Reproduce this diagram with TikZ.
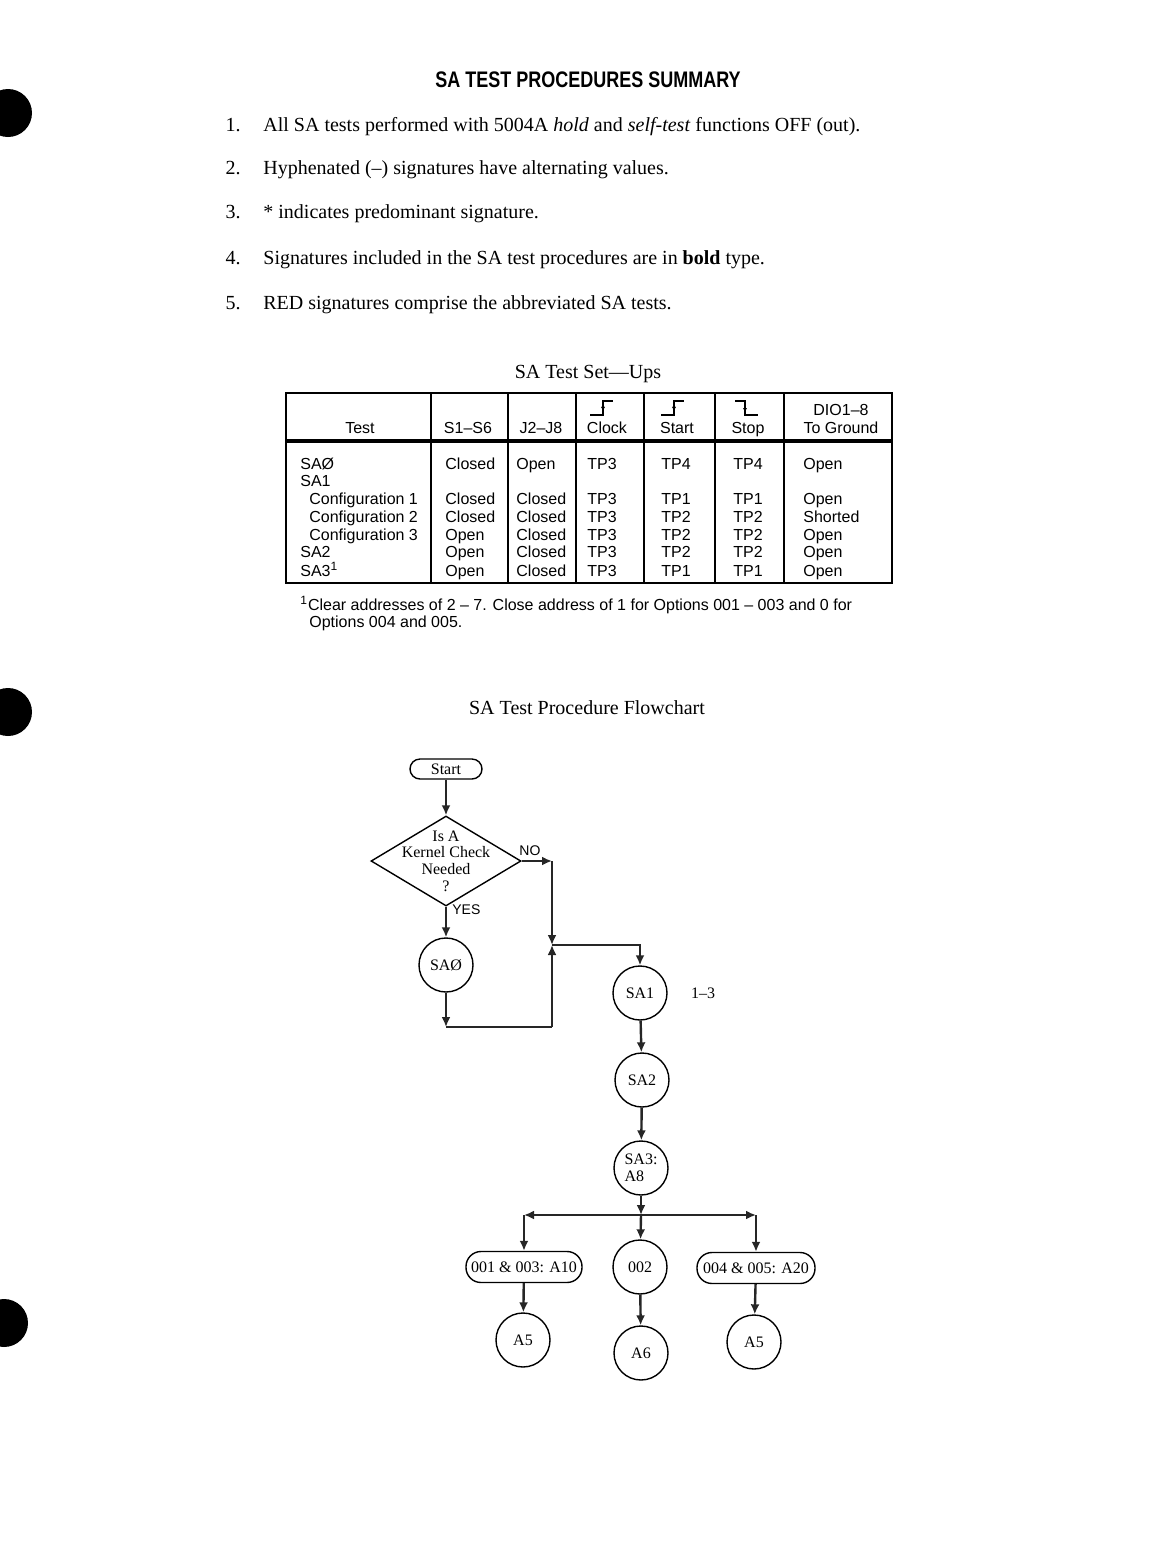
\documentclass[tikz,border=0pt]{standalone}
\usepackage{fontspec}
\setmainfont{Liberation Serif}
\newfontfamily\tabfont[Ligatures=TeX]{Liberation Sans}
\usepackage{tikz}
\usetikzlibrary{shapes.geometric, arrows.meta, positioning, calc}

\begin{document}
\begin{tikzpicture}[x=0.5pt, y=-0.5pt, every node/.style={inner sep=0pt},
    bodytext/.style={anchor=base west, font=\fontsize{10}{12}\selectfont},
    tabtext/.style={anchor=base west, font=\tabfont\fontsize{8}{9}\selectfont},
    tabhead/.style={anchor=base, font=\tabfont\fontsize{8}{9}\selectfont},
    flowtext/.style={font=\fontsize{8}{8.3}\selectfont},
    stepcircle/.style={circle, draw, line width=0.7pt, minimum size=27pt, flowtext},
    stadium/.style={rectangle, draw, line width=0.7pt, flowtext},
    flow/.style={-{Latex[length=5pt, width=4.5pt]}, line width=1.2pt, black!85},
    wave/.style={line width=0.6pt},
    rule/.style={line width=0.6pt}]
    \useasboundingbox (0,0) rectangle (1176,1544);
    % punch holes of the scan
    \fill (8,113) circle[radius=12pt];
    \fill (8,712) circle[radius=12pt];
    \fill (4,1323) circle[radius=12pt];

    \node[anchor=base, font=\tabfont\bfseries\fontsize{9}{11}\selectfont] (title) at (588,87) {\scalebox{1}[1.25]{SA TEST PROCEDURES SUMMARY}};
    \foreach \y/\n/\txt [count=\k] in {
        131/1./{All SA tests performed with 5004A \textit{hold} and \textit{self-test} functions OFF (out).},
        174/2./{Hyphenated (--) signatures have alternating values.},
        218/3./{* indicates predominant signature.},
        264/4./{Signatures included in the SA test procedures are in \textbf{bold} type.},
        309/5./{RED signatures comprise the abbreviated SA tests.}} {
        \node[bodytext, anchor=base east] (num\k) at (241,\y) {\n};
        \node[bodytext] (item\k) at (263,\y) {\txt};
    }

    \node[bodytext, anchor=base] (settitle) at (588,378) {SA Test Set---Ups};
    % table frame
    \draw[rule] (286,393) rectangle (892,583);
    \draw[line width=1.6pt] (286,441) -- (892,441);
    \foreach \x in {431,508,576,644,715,784}
        \draw[rule] (\x,393) -- (\x,583);
    % header
    \node[tabhead] (htest) at (360,433) {Test};
    \node[tabhead] (hsw) at (468,433) {S1--S6};
    \node[tabhead] (hjp) at (541,433) {J2--J8};
    \node[tabhead] (hclk) at (607,433) {Clock};
    \node[tabhead] (hsta) at (677,433) {Start};
    \node[tabhead] (hstp) at (748,433) {Stop};
    \node[tabhead] (hdio) at (841,415) {DIO1--8};
    \node[tabhead] (hgnd) at (841,433) {To Ground};
    % edge symbols
    \draw[wave] (590,415) -- (603,415) -- (603,401) -- (613,401);
    \draw[wave, -{Latex[length=2.5pt, width=2pt]}] (603,410) -- (603,403);
    \draw[wave] (661,415) -- (674,415) -- (674,401) -- (684,401);
    \draw[wave, -{Latex[length=2.5pt, width=2pt]}] (674,410) -- (674,403);
    \draw[wave] (735,401) -- (745,401) -- (745,415) -- (758,415);
    \draw[wave, -{Latex[length=2.5pt, width=2pt]}] (745,406) -- (745,413);
    % rows
    \node[tabtext] (sa1row) at (300,486) {SA1};
    \foreach \y/\tx/\tn/\s/\j/\c/\a/\b/\d [count=\k] in {
        469/300/SAØ/Closed/Open/TP3/TP4/TP4/Open,
        504/309/Configuration 1/Closed/Closed/TP3/TP1/TP1/Open,
        522/309/Configuration 2/Closed/Closed/TP3/TP2/TP2/Shorted,
        540/309/Configuration 3/Open/Closed/TP3/TP2/TP2/Open,
        557/300/SA2/Open/Closed/TP3/TP2/TP2/Open,
        576/300/{SA3\textsuperscript{1}}/Open/Closed/TP3/TP1/TP1/Open} {
        \node[tabtext] (test\k) at (\tx,\y) {\tn};
        \node[tabtext] (sw\k) at (445,\y) {\s};
        \node[tabtext] (jp\k) at (516,\y) {\j};
        \node[tabtext] (clk\k) at (587,\y) {\c};
        \node[tabtext] (sta\k) at (661,\y) {\a};
        \node[tabtext] (stp\k) at (733,\y) {\b};
        \node[tabtext] (dio\k) at (803,\y) {\d};
    }
    \node[tabtext] (note1) at (300,610) {\textsuperscript{1}Clear addresses of 2 -- 7. Close address of 1 for Options 001 -- 003 and 0 for};
    \node[tabtext] (note2) at (309,627) {Options 004 and 005.};

    \node[bodytext, anchor=base] (flowtitle) at (587,714) {SA Test Procedure Flowchart};
    % flowchart
    \node[stadium, rounded corners=5pt, minimum width=36pt, minimum height=10pt] (start) at (446,769) {Start};
    \node[diamond, draw, line width=0.7pt, minimum width=75pt, minimum height=45pt] (kernel) at (446,861) {};
    \node[flowtext, align=center] (kerneltxt) at (446,861) {Is A\\Kernel Check\\Needed\\?};
    \node[stepcircle] (sa0) at (446,965) {SAØ};
    \node[stepcircle] (sa1) at (640,993) {SA1};
    \node[flowtext] (sa1note) at (703,993) {1--3};
    \node[stepcircle] (sa2) at (642,1080) {SA2};
    \node[stepcircle, align=left] (sa3) at (641,1168) {SA3:\\A8};
    \node[stadium, rounded corners=7.5pt, minimum width=58pt, minimum height=15.5pt] (opt1) at (524,1267) {001 \& 003: A10};
    \node[stepcircle] (opt2) at (640,1267) {002};
    \node[stadium, rounded corners=7.5pt, minimum width=59pt, minimum height=15.5pt] (opt4) at (756,1268) {004 \& 005: A20};
    \node[stepcircle] (a5l) at (523,1340) {A5};
    \node[stepcircle] (a6) at (641,1353) {A6};
    \node[stepcircle] (a5r) at (754,1342) {A5};

    \coordinate (noturn) at (552,861);
    \coordinate (merge) at (552,945);
    \coordinate (yesdown) at (446,1027);
    \coordinate (yesturn) at (552,1027);
    \coordinate (split) at (641,1215);
    \coordinate (lsplit) at (opt1.north |- split);
    \coordinate (rsplit) at (opt4.north |- split);

    \draw[flow] (start) -- (kernel.north);
    \draw[flow] (kernel.east) -- (noturn);
    \draw[flow] (noturn) -- (merge);
    \draw[flow] (kernel.south) -- (sa0);
    \draw[flow] (sa0) -- (yesdown);
    \draw[line width=1.2pt, black!85] (yesdown) -- (yesturn);
    \draw[flow] (yesturn) -- (merge);
    \draw[flow] (merge) -| (sa1.north);
    \node[font=\tabfont\fontsize{7}{8}\selectfont, anchor=south west] (nolbl) at (519,856) {NO};
    \node[font=\tabfont\fontsize{7}{8}\selectfont, anchor=west] (yeslbl) at (452,910) {YES};
    \draw[flow] (sa1) -- (sa2);
    \draw[flow] (sa2) -- (sa3);
    \draw[flow] (sa3) -- (split);
    \draw[flow] (split) -- (lsplit);
    \draw[flow] (split) -- (rsplit);
    \draw[flow] (split) -- (opt2);
    \draw[flow] (lsplit) -- (opt1);
    \draw[flow] (rsplit) -- (opt4);
    \draw[flow] (opt1) -- (a5l);
    \draw[flow] (opt2) -- (a6);
    \draw[flow] (opt4) -- (a5r);
\end{tikzpicture}
\end{document}
